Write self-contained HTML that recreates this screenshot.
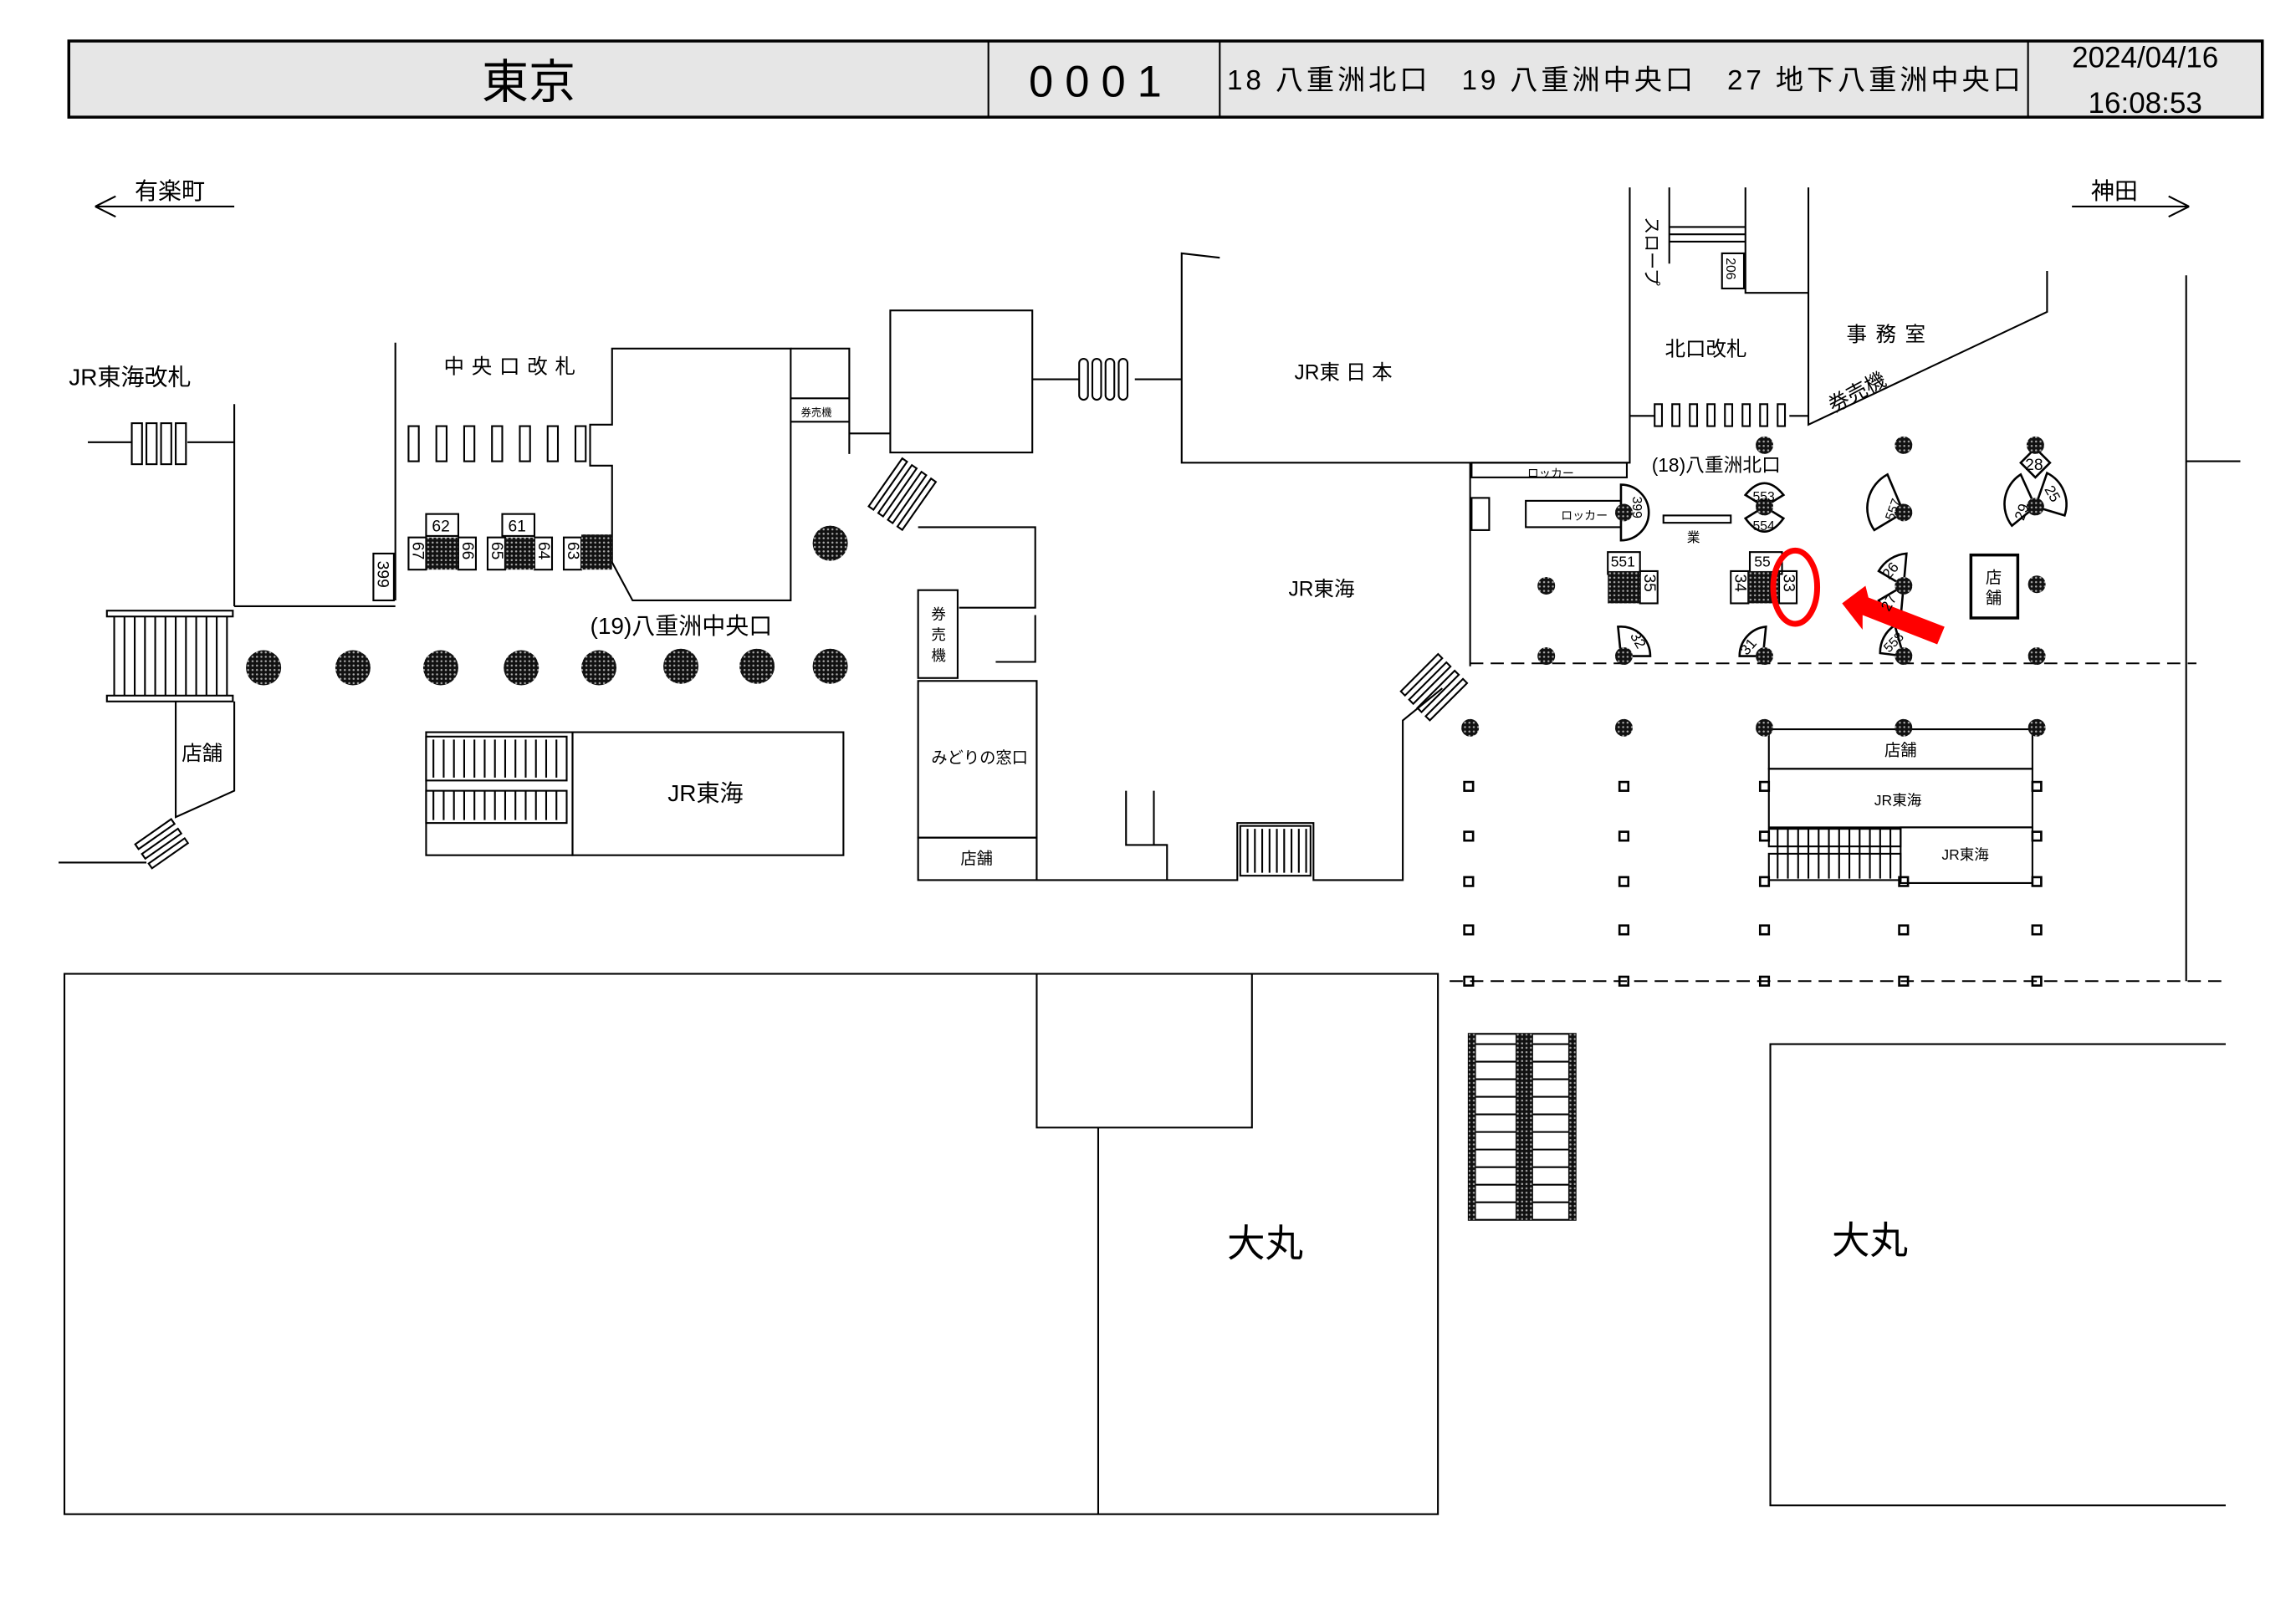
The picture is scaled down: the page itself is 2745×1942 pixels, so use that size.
<!DOCTYPE html>
<html><head><meta charset="utf-8"><style>
html,body{margin:0;padding:0;background:#fff}
svg{display:block}
text{font-family:"Liberation Sans","Noto Sans CJK JP",sans-serif;fill:#000}
</style></head><body>
<svg width="2745" height="1942" viewBox="0 0 1568 1109" preserveAspectRatio="none" xmlns="http://www.w3.org/2000/svg">
<defs>
<pattern id="dots" width="3" height="3" patternUnits="userSpaceOnUse"><rect width="3" height="3" fill="#111"/><circle cx="1.5" cy="1.5" r="0.7" fill="#aaa"/></pattern>
</defs>
<g stroke="#000" stroke-width="1.2" fill="none">
<rect x="47" y="28" width="1498" height="52" fill="#e6e6e6" stroke-width="2"/>
<line x1="675" y1="28" x2="675" y2="80"/><line x1="833" y1="28" x2="833" y2="80"/><line x1="1385" y1="28" x2="1385" y2="80"/>
</g>
<text x="361" y="67" font-size="32" text-anchor="middle">東京</text>
<text x="752" y="66" font-size="30" text-anchor="middle" letter-spacing="8">0001</text>
<text x="838" y="61" font-size="19" textLength="542" lengthAdjust="spacing">18 八重洲北口　19 八重洲中央口　27 地下八重洲中央口</text>
<text x="1465" y="46" font-size="20" text-anchor="middle">2024/04/16</text>
<text x="1465" y="77" font-size="20" text-anchor="middle">16:08:53</text>

<g stroke="#000" stroke-width="1.2" fill="none">
<path d="M65 141H160M65 141l14-7M65 141l14 7"/>
<path d="M1415 141H1495M1495 141l-14-7M1495 141l-14 7"/>
<path d="M60 302H90M128 302H160"/>
<rect x="90" y="289" width="7" height="28"/><rect x="100" y="289" width="7" height="28"/><rect x="110" y="289" width="7" height="28"/><rect x="120" y="289" width="7" height="28"/>
<path d="M160 276V414M160 414H270M270 234V410"/>
<rect x="73" y="417" width="86" height="4"/><rect x="73" y="475" width="86" height="4"/>
<path d="M78 421V475M85 421V475M92 421V475M99 421V475M106 421V475M113 421V475M120 421V475M127 421V475M134 421V475M141 421V475M148 421V475M155 421V475"/>
<path d="M120 479V558L160 540V479"/>
<path d="M40 589H100"/>
<g transform="rotate(-35 112 575)"><rect x="95" y="565" width="30" height="4"/><rect x="95" y="573" width="30" height="4"/><rect x="95" y="581" width="30" height="4"/></g>
<rect x="279" y="291" width="7" height="24"/><rect x="298" y="291" width="7" height="24"/><rect x="317" y="291" width="7" height="24"/><rect x="336" y="291" width="7" height="24"/><rect x="355" y="291" width="7" height="24"/><rect x="374" y="291" width="7" height="24"/><rect x="393" y="291" width="7" height="24"/>
<path d="M418 238H540V410H432L418 384V318H403V290H418Z"/>
<path d="M540 238H580V310M580 238V296H608M540 272H580M540 288H580"/>
<rect x="608" y="212" width="97" height="97"/>
<path d="M705 259H737M775 259H807"/>
<rect x="737" y="245" width="6" height="28" rx="3"/><rect x="746" y="245" width="6" height="28" rx="3"/><rect x="755" y="245" width="6" height="28" rx="3"/><rect x="764" y="245" width="6" height="28" rx="3"/>
<g transform="rotate(-55 617 338)"><rect x="597" y="323" width="40" height="4"/><rect x="597" y="331" width="40" height="4"/><rect x="597" y="339" width="40" height="4"/><rect x="597" y="347" width="40" height="4"/></g>
<rect x="255" y="378" width="14" height="32"/>
<rect x="291" y="351" width="22" height="15"/><rect x="343" y="351" width="22" height="15"/>
<rect x="279" y="367" width="12" height="22"/><rect x="313" y="367" width="12" height="22"/>
<rect x="333" y="367" width="12" height="22"/><rect x="365" y="367" width="12" height="22"/>
<rect x="385" y="367" width="12" height="22"/>
</g>
<rect x="291" y="367" width="22" height="22" fill="url(#dots)"/><rect x="345" y="367" width="20" height="22" fill="url(#dots)"/><rect x="397" y="365" width="21" height="24" fill="url(#dots)"/>
<g fill="url(#dots)">
<circle cx="180" cy="456" r="12"/><circle cx="241" cy="456" r="12"/><circle cx="301" cy="456" r="12"/><circle cx="356" cy="456" r="12"/><circle cx="409" cy="456" r="12"/><circle cx="465" cy="455" r="12"/><circle cx="517" cy="455" r="12"/><circle cx="567" cy="455" r="12"/><circle cx="567" cy="371" r="12"/>
</g>
<g stroke="#000" stroke-width="1.2" fill="none">
<rect x="291" y="500" width="100" height="84"/><rect x="391" y="500" width="185" height="84"/>
<rect x="291" y="503" width="96" height="30"/><rect x="291" y="540" width="96" height="22"/>
<path d="M296 505V531M303 505V531M310 505V531M317 505V531M324 505V531M331 505V531M338 505V531M345 505V531M352 505V531M359 505V531M366 505V531M373 505V531M380 505V531"/>
<path d="M296 540V560M303 540V560M310 540V560M317 540V560M324 540V560M331 540V560M338 540V560M345 540V560M352 540V560M359 540V560M366 540V560M373 540V560M380 540V560"/>
<path d="M627 360H707V415H655M707 420V452H680"/>
<rect x="627" y="403" width="27" height="60"/>
<rect x="627" y="465" width="81" height="107"/><rect x="627" y="572" width="81" height="29"/>
<path d="M708 465V601H797V577H788V540"/>
<path d="M769 540V577H797"/>
<path d="M797 601H845V562H897V601H958V492L985 470M1004 455V316"/>
<rect x="847" y="564" width="48" height="34"/>
<path d="M852 566V596M857 566V596M862 566V596M867 566V596M872 566V596M877 566V596M882 566V596M887 566V596M892 566V596"/>
<g transform="rotate(-45 980 470)"><rect x="962" y="455" width="36" height="4"/><rect x="962" y="463" width="36" height="4"/><rect x="962" y="471" width="36" height="4"/><rect x="962" y="479" width="36" height="4"/></g>
<path d="M833 176L807 173V316H1113V128"/>
<path d="M1140 128V180M1192 128V200H1235M1235 128V290L1398 213V185"/>
<path d="M1140 155H1192M1140 160H1192M1140 165H1192"/>
<rect x="1176" y="173" width="15" height="24"/>
<path d="M1113 284H1130M1222 284H1235"/>
<rect x="1130" y="276" width="5" height="15"/><rect x="1142" y="276" width="5" height="15"/><rect x="1154" y="276" width="5" height="15"/><rect x="1166" y="276" width="5" height="15"/><rect x="1178" y="276" width="5" height="15"/><rect x="1190" y="276" width="5" height="15"/><rect x="1202" y="276" width="5" height="15"/><rect x="1214" y="276" width="5" height="15"/>
<rect x="1005" y="316" width="106" height="10"/>
<rect x="1005" y="340" width="12" height="22"/>
<rect x="1042" y="342" width="65" height="18"/>
<rect x="1136" y="352" width="46" height="5"/>
<rect x="1098" y="377" width="22" height="15"/><rect x="1120" y="390" width="12" height="22"/>
<rect x="1195" y="377" width="22" height="15"/><rect x="1182" y="390" width="12" height="22"/><rect x="1215" y="390" width="12" height="22"/>
<rect x="1346" y="379" width="32" height="43" stroke-width="2"/>
<!-- fans -->
<path d="M1107 331A19 19 0 0 1 1107 369Z" stroke-width="1.5"/>
<path d="M1205 346L1192 338Q1205 322 1218 338Z" stroke-width="1.5"/>
<path d="M1205 346L1192 354Q1205 372 1218 354Z" stroke-width="1.5"/>
<path d="M1300 350L1280 362A26 26 0 0 1 1289 324Z" stroke-width="1.5"/>
<path d="M1390 346L1374 359A24 24 0 0 1 1380 324Z" stroke-width="1.5"/>
<path d="M1390 346L1398 323A24 24 0 0 1 1410 352Z" stroke-width="1.5"/>
<path d="M1390 306L1380 316L1390 326L1400 316Z" stroke-width="1.5"/>
<path d="M1300 400L1283 390A24 24 0 0 1 1302 378Z" stroke-width="1.5"/>
<path d="M1300 400L1283 410A24 24 0 0 0 1298 422Z" stroke-width="1.5"/>
<path d="M1300 448L1284 446A22 22 0 0 1 1294 427Z" stroke-width="1.5"/>
<path d="M1107 448L1105 428A20 20 0 0 1 1127 448Z" stroke-width="1.5"/>
<path d="M1204 448L1188 448A20 20 0 0 1 1206 428Z" stroke-width="1.5"/>
<path d="M1004 453H1500M990 670H1520" stroke-dasharray="9 5"/>
<path d="M1493 188V670M1493 315H1530"/>
<rect x="1208" y="498" width="180" height="27"/><rect x="1208" y="525" width="180" height="40"/><rect x="1298" y="565" width="90" height="38"/>
<rect x="1208" y="566" width="90" height="12"/><rect x="1208" y="583" width="90" height="18"/>
<path d="M1214 566V600M1221 566V600M1228 566V600M1235 566V600M1242 566V600M1249 566V600M1256 566V600M1263 566V600M1270 566V600M1277 566V600M1284 566V600M1291 566V600"/>
<rect x="44" y="665" width="938" height="369"/>
<path d="M708 665V770H855V665M750 770V1034"/>
<path d="M1520 713H1209V1028H1520"/>
<rect x="1003" y="706" width="73" height="127"/>
<path d="M1003 713H1076M1003 725H1076M1003 737H1076M1003 749H1076M1003 761H1076M1003 773H1076M1003 785H1076M1003 797H1076M1003 809H1076M1003 821H1076M1037 706V833M1045 706V833"/>
</g>
<g fill="url(#dots)">
<rect x="1098" y="390" width="22" height="22"/><rect x="1194" y="390" width="21" height="22"/>
<rect x="1003" y="706" width="5" height="127"/><rect x="1035" y="706" width="12" height="127"/><rect x="1071" y="706" width="5" height="127"/>
<circle cx="1109" cy="350" r="6"/><circle cx="1205" cy="346" r="6"/><circle cx="1205" cy="304" r="6"/><circle cx="1300" cy="304" r="6"/><circle cx="1300" cy="350" r="6"/><circle cx="1390" cy="304" r="6"/><circle cx="1390" cy="346" r="6"/>
<circle cx="1056" cy="400" r="6"/><circle cx="1300" cy="400" r="6"/><circle cx="1391" cy="399" r="6"/>
<circle cx="1056" cy="448" r="6"/><circle cx="1109" cy="448" r="6"/><circle cx="1205" cy="448" r="6"/><circle cx="1300" cy="448" r="6"/><circle cx="1391" cy="448" r="6"/>
<circle cx="1004" cy="497" r="6"/><circle cx="1109" cy="497" r="6"/><circle cx="1205" cy="497" r="6"/><circle cx="1300" cy="497" r="6"/><circle cx="1391" cy="497" r="6"/>
</g>
<g fill="none" stroke="#000" stroke-width="1.5">
<rect x="1000" y="534" width="6" height="6"/><rect x="1106" y="534" width="6" height="6"/><rect x="1202" y="534" width="6" height="6"/><rect x="1388" y="534" width="6" height="6"/>
<rect x="1000" y="568" width="6" height="6"/><rect x="1106" y="568" width="6" height="6"/><rect x="1202" y="568" width="6" height="6"/><rect x="1388" y="568" width="6" height="6"/>
<rect x="1000" y="599" width="6" height="6"/><rect x="1106" y="599" width="6" height="6"/><rect x="1202" y="599" width="6" height="6"/><rect x="1297" y="599" width="6" height="6"/><rect x="1388" y="599" width="6" height="6"/>
<rect x="1000" y="632" width="6" height="6"/><rect x="1106" y="632" width="6" height="6"/><rect x="1202" y="632" width="6" height="6"/><rect x="1297" y="632" width="6" height="6"/><rect x="1388" y="632" width="6" height="6"/>
<rect x="1000" y="667" width="6" height="6"/><rect x="1106" y="667" width="6" height="6"/><rect x="1202" y="667" width="6" height="6"/><rect x="1297" y="667" width="6" height="6"/><rect x="1388" y="667" width="6" height="6"/>
</g>
<ellipse cx="1226" cy="401" rx="15" ry="25" fill="none" stroke="#f00" stroke-width="4"/>
<path d="M1258 412L1274 400L1276 408L1328 428L1323 440L1272 420L1272 430Z" fill="#f00"/>
<g font-size="16">
<text x="92" y="136">有楽町</text><text x="1428" y="136">神田</text>
<text x="47" y="263">JR東海改札</text>
<text x="303" y="255" font-size="14" letter-spacing="5">中央口改札</text>
<text x="403" y="433">(19)八重洲中央口</text>
<text x="884" y="259" font-size="14">JR東 日 本</text>
<text x="880" y="407" font-size="14">JR東海</text>
<text x="456" y="547">JR東海</text>
<text x="1137" y="243" font-size="14">北口改札</text>
<text x="1261" y="233" font-size="14" letter-spacing="6">事務室</text>
<text x="1128" y="322" font-size="13">(18)八重洲北口</text>
<text x="838" y="858" font-size="26">大丸</text><text x="1251" y="856" font-size="26">大丸</text>
</g>
<g font-size="11">
<text x="124" y="519" font-size="14">店舗</text>
<text x="636" y="521">みどりの窓口</text>
<text x="656" y="590">店舗</text>
<text x="547" y="284" font-size="7">券売機</text>
<text x="1043" y="326" font-size="8">ロッカー</text>
<text x="1066" y="355" font-size="8">ロッカー</text>
<text x="1152" y="370" font-size="9">業</text>
<text x="1287" y="516">店舗</text><text x="1280" y="550" font-size="10">JR東海</text><text x="1326" y="587" font-size="10">JR東海</text>
<text x="295" y="363">62</text><text x="347" y="363">61</text>
<text x="1100" y="387" font-size="10">551</text><text x="1198" y="387" font-size="10">55</text>
<text x="1197" y="342" font-size="9">553</text><text x="1197" y="362" font-size="9">554</text>
<text x="1383" y="321" font-size="11">28</text>
<text x="1356" y="398" font-size="11">店</text><text x="1356" y="412" font-size="11">舗</text>
</g>
<g font-size="11">
<text x="636" y="423" font-size="10">券</text><text x="636" y="437" font-size="10">売</text><text x="636" y="451" font-size="10">機</text>
<text transform="translate(258 383) rotate(90)">399</text>
<text transform="translate(282 370) rotate(90)">67</text><text transform="translate(316 370) rotate(90)">66</text>
<text transform="translate(336 370) rotate(90)">65</text><text transform="translate(368 370) rotate(90)">64</text>
<text transform="translate(388 370) rotate(90)">63</text>
<text transform="translate(1123 392) rotate(90)">35</text>
<text transform="translate(1185 392) rotate(90)">34</text><text transform="translate(1218 392) rotate(90)">33</text>
<text transform="translate(1179 176) rotate(90)" font-size="9">206</text>
<text transform="translate(1115 339) rotate(90)" font-size="9">399</text>
<text transform="translate(1124 148) rotate(90)" font-size="12">スロープ</text>
<text transform="translate(1252 282) rotate(-28)" font-size="14">券売機</text>
<text transform="translate(1293 356) rotate(-70)" font-size="9">557</text>
<text transform="translate(1382 356) rotate(-70)" font-size="10">29</text>
<text transform="translate(1396 334) rotate(60)" font-size="10">25</text>
<text transform="translate(1290 396) rotate(-50)" font-size="10">26</text>
<text transform="translate(1290 418) rotate(-60)" font-size="10">27</text>
<text transform="translate(1290 446) rotate(-45)" font-size="9">558</text>
<text transform="translate(1113 434) rotate(60)" font-size="10">32</text>
<text transform="translate(1193 448) rotate(-50)" font-size="10">31</text>
</g>
</svg>
</body></html>
